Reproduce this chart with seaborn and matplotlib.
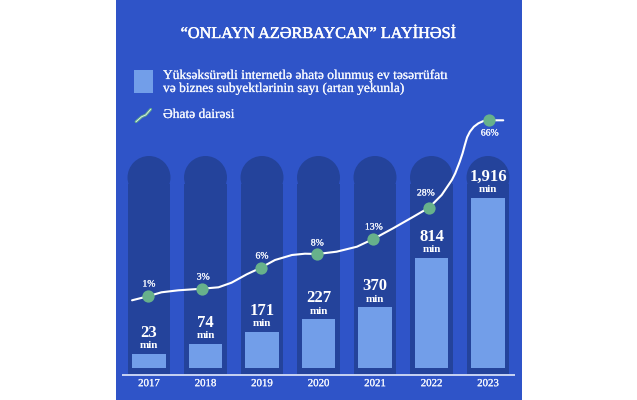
import pandas as pd
import matplotlib
matplotlib.use("Agg")
import matplotlib.pyplot as plt
import matplotlib.patheffects as pe
from matplotlib.lines import Line2D
from matplotlib.patches import Ellipse, Rectangle
import seaborn as sns

years = ["2017", "2018", "2019", "2020", "2021", "2022", "2023"]
subjects = ["23", "74", "171", "227", "370", "814", "1,916"]
# the bars are not drawn to scale in the original, so these are their drawn heights
bar_heights = [14, 24, 36, 49, 61, 110, 170]
column_tops = [190.5] * 7
coverage = ["1%", "3%", "6%", "8%", "13%", "28%", "66%"]
marker_x = [-0.02, 0.94, 1.98, 2.98, 3.97, 4.96, 6.02]
marker_y = [71.7, 79.3, 100.3, 114, 129, 160.5, 247.7]
label_x = [0, 0.96, 2, 2.98, 3.98, 4.9, 6.03]
label_y = [84, 91, 112, 125, 141, 175, 235]
curve_x = [-0.30, -0.02, 0.22, 0.52, 0.94, 1.23, 1.46, 1.73, 1.98, 2.23, 2.53, 2.76, 2.98,
           3.32, 3.68, 3.97, 4.32, 4.68, 4.96, 5.18, 5.36, 5.42, 5.50, 5.55, 5.59, 5.63, 5.68,
           5.75, 5.83, 5.92, 6.02, 6.27]
curve_y = [67.7, 71.7, 75.7, 77.7, 79.3, 80.7, 85.3, 93.7, 100.3, 108, 113, 114.3, 114,
           116.3, 121.3, 129, 139.7, 151.3, 160.5, 173, 188, 194.7, 206.3, 214.7, 223, 230.7, 236.3,
           241.3, 244.7, 247, 247.7, 247.7]

PANEL = "#2f54c8"
COLUMN = "#24439b"
BAR = "#729ee9"
GREEN = "#67b18b"
WHITE = "#f4f7fe"
W, H = 637, 400

sns.set_theme(style="white")
plt.rcParams["font.family"] = ["Liberation Serif", "DejaVu Serif"]

# the original face is a little heavier than Liberation Serif regular
medium = [pe.withStroke(linewidth=0.15, foreground=WHITE)]

fig = plt.figure(figsize=(W / 100, H / 100), dpi=100, facecolor="white")
ax = fig.add_axes([115.5 / W, 0, 406 / W, 1], facecolor=PANEL)

df = pd.DataFrame({"year": years, "height": bar_heights, "column": column_tops})

# background columns with round tops, then the real bars
sns.barplot(data=df, x="year", y="column", color=COLUMN, saturation=1, width=0.76,
            bottom=-6, linewidth=0, ax=ax, zorder=1)
for i in range(len(years)):
    ax.add_patch(Ellipse((i, column_tops[i]), 0.76, 43, color=COLUMN, lw=0, zorder=1))
sns.barplot(data=df, x="year", y="height", color=BAR, saturation=1, width=0.59,
            linewidth=0, ax=ax, zorder=2)

ax.set_xlim(-0.593, 6.593)
ax.set_ylim(-32, 368)
ax.hlines(-7, -0.48, 6.48, color="#e3eafb", lw=1.2, zorder=3)

sns.lineplot(x=curve_x, y=curve_y, sort=False, estimator=None, color="white", lw=1.5,
             solid_joinstyle="round", ax=ax, zorder=4)
sns.scatterplot(x=marker_x, y=marker_y, color=GREEN, s=78, linewidth=0, ax=ax, zorder=5)

for i in range(len(years)):
    ax.text(i, bar_heights[i] + 21, subjects[i], ha="center", va="center", color="white",
            fontsize=12, fontweight="bold", zorder=6)
    ax.text(i, bar_heights[i] + 8, "min", ha="center", va="center", color="white",
            fontsize=8, fontweight="bold", zorder=6)
    ax.text(label_x[i], label_y[i], coverage[i], ha="center", va="center", color=WHITE,
            fontsize=7, path_effects=medium, zorder=6)

ax.set_xlabel("")
ax.set_ylabel("")
ax.set_yticks([])
ax.set_xticks(range(len(years)))
ax.set_xticklabels(years, color=WHITE, fontsize=7.8, path_effects=medium)
ax.tick_params(axis="x", length=0, pad=-15)
for side in ax.spines:
    ax.spines[side].set_visible(False)

# title and legend, placed in figure pixels
fig.text(318.5 / W, 1 - 34 / H, "“ONLAYN AZƏRBAYCAN” LAYİHƏSİ", ha="center", va="center",
         color="white", fontsize=11.7, path_effects=[pe.withStroke(linewidth=0.35, foreground="white")])
fig.add_artist(Rectangle((134 / W, 1 - 93 / H), 19 / W, 23 / H, color=BAR, lw=0,
                         transform=fig.transFigure))
fig.text(163 / W, 1 - 76 / H, "Yüksəksürətli internetlə əhatə olunmuş ev təsərrüfatı",
         va="center", color=WHITE, fontsize=9.7, path_effects=medium)
fig.text(163 / W, 1 - 89 / H, "və biznes subyektlərinin sayı (artan yekunla)",
         va="center", color=WHITE, fontsize=9.7, path_effects=medium)
fig.text(163 / W, 1 - 115 / H, "Əhatə dairəsi", va="center", color=WHITE, fontsize=9.7,
         path_effects=medium)
icon_x = [136 / W, 141.7 / W, 145.7 / W, 150.7 / W]
icon_y = [1 - 121.7 / H, 1 - 116.7 / H, 1 - 115 / H, 1 - 109.3 / H]
fig.add_artist(Line2D(icon_x, icon_y, color=GREEN, lw=2, transform=fig.transFigure))
fig.add_artist(Line2D(icon_x, icon_y, color=WHITE, lw=0.5, transform=fig.transFigure))

fig.savefig("out.png", dpi=100)
